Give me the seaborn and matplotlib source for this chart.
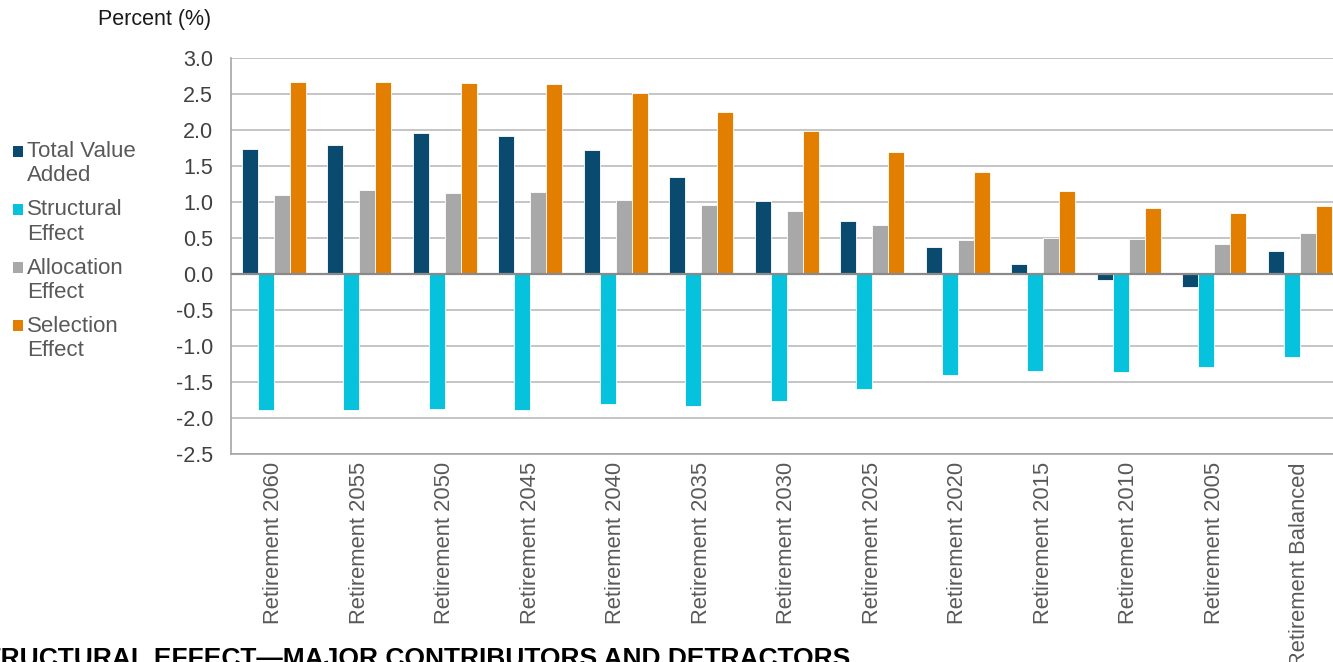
import pandas as pd
import numpy as np
import seaborn as sns
import matplotlib.pyplot as plt
from matplotlib.patches import Rectangle

# --- data ---
funds = ['Retirement 2060', 'Retirement 2055', 'Retirement 2050', 'Retirement 2045',
         'Retirement 2040', 'Retirement 2035', 'Retirement 2030', 'Retirement 2025',
         'Retirement 2020', 'Retirement 2015', 'Retirement 2010', 'Retirement 2005',
         'Retirement Balanced']
total_value_added = [1.74, 1.79, 1.96, 1.91, 1.72, 1.35, 1.01, 0.74, 0.38, 0.14, -0.09, -0.18, 0.32]
structural_effect = [-1.89, -1.89, -1.88, -1.89, -1.81, -1.83, -1.77, -1.60, -1.40, -1.35, -1.36, -1.29, -1.15]
allocation_effect = [1.10, 1.16, 1.12, 1.14, 1.03, 0.96, 0.88, 0.68, 0.47, 0.50, 0.48, 0.42, 0.57]
selection_effect = [2.67, 2.66, 2.65, 2.64, 2.51, 2.25, 1.99, 1.70, 1.41, 1.15, 0.91, 0.85, 0.94]

series = ['Total Value Added', 'Structural Effect', 'Allocation Effect', 'Selection Effect']
legend_labels = ['Total Value\nAdded', 'Structural\nEffect', 'Allocation\nEffect', 'Selection\nEffect']
colors = ['#0a4a6e', '#06c2dd', '#a8a8a8', '#e37f00']
y_ticks = [3.0, 2.5, 2.0, 1.5, 1.0, 0.5, 0.0, -0.5, -1.0, -1.5, -2.0, -2.5]

df = pd.DataFrame({
    'fund': funds * 4,
    'series': np.repeat(series, len(funds)),
    'value': total_value_added + structural_effect + allocation_effect + selection_effect,
})

sns.set_style('white')
plt.rcParams['font.family'] = ['Liberation Sans', 'DejaVu Sans']

W, H = 1333, 662
fig = plt.figure(figsize=(W / 100, H / 100), dpi=100)
ax = fig.add_axes([231 / W, 1 - 454 / H, (1342.5 - 231) / W, (454 - 58) / H])

sns.barplot(data=df, x='fund', y='value', hue='series', hue_order=series,
            palette=colors, saturation=1, width=0.75, gap=0, edgecolor='white',
            linewidth=0.6, legend=False, ax=ax, zorder=3)

ax.set_ylim(-2.5, 3.0)
ax.set_yticks(y_ticks)
ax.set_yticklabels([f'{t:.1f}' for t in y_ticks], fontsize=15.5, color='#404040')
ax.set_xlim(-0.5, len(funds) - 0.5)
ax.set_xticks(range(len(funds)))
ax.set_xticklabels(funds, rotation=90, fontsize=15.8, color='#595959', va='top')
ax.tick_params(axis='both', length=0)
ax.tick_params(axis='y', pad=13)
ax.tick_params(axis='x', pad=6)
ax.set_xlabel('')
ax.set_ylabel('')

# gridlines and frame
ax.yaxis.grid(True, color='#b5b5b5', linewidth=1.1, zorder=0)
ax.set_axisbelow(True)
ax.axhline(0, color='#8a8a8a', linewidth=1.6, zorder=4)
for side in ['top', 'right']:
    ax.spines[side].set_visible(False)
ax.spines['left'].set_color('#a6a6a6')
ax.spines['left'].set_linewidth(1.2)
ax.spines['bottom'].set_color('#a6a6a6')
ax.spines['bottom'].set_linewidth(1.2)

fig.text(98 / W, 1 - 20 / H, 'Percent (%)', fontsize=15.5, color='#1a1a1a',
         ha='left', va='center')

# legend drawn at the left, squares aligned with the first line
for i, (lab, col) in enumerate(zip(legend_labels, colors)):
    y_mid = 151 + i * 58.3
    fig.patches.append(Rectangle((13 / W, 1 - (y_mid + 5.5) / H), 10 / W, 11 / H,
                                 transform=fig.transFigure, facecolor=col,
                                 edgecolor='none'))
    fig.text(27 / W, 1 - (y_mid - 10) / H, lab, fontsize=16, color='#595959',
             ha='left', va='top', linespacing=1.2)

fig.text(-33 / W, 1 - 647 / H, 'STRUCTURAL EFFECT\u2014MAJOR CONTRIBUTORS AND DETRACTORS',
         fontsize=19, fontweight='bold', color='black', ha='left', va='top',
         family=['Liberation Sans Narrow', 'Liberation Sans', 'DejaVu Sans'])

fig.savefig('out.png', dpi=100)
